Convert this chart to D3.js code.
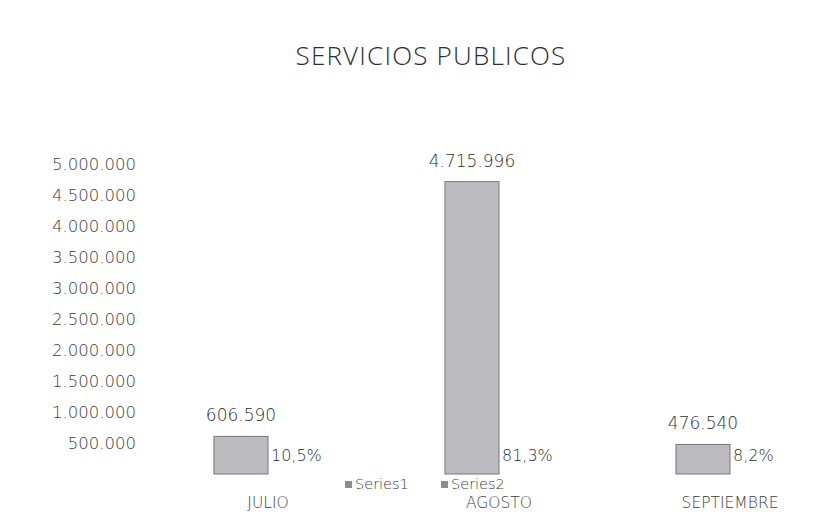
<!DOCTYPE html>
<html>
<head>
<meta charset="utf-8">
<script src="https://cdn.jsdelivr.net/npm/d3@7"></script>
<style>
  body { margin: 0; background: #fff; }
  svg { display: block; }
</style>
</head>
<body>
<svg id="chart" width="833" height="512"></svg>
<script>
// chart data
var months = ['JULIO', 'AGOSTO', 'SEPTIEMBRE'];
var amounts = [606590, 4715996, 476540];
var shares = ['10,5%', '81,3%', '8,2%'];
var yTicks = [500000, 1000000, 1500000, 2000000, 2500000, 3000000, 3500000, 4000000, 4500000, 5000000];
var legendNames = ['Series1', 'Series2'];

var svg = d3.select('#chart');
var textFont = '"DejaVu Sans", sans-serif';
var textColor = '#3c3c3c';

// layout
var plot = {l: 152.5, r: 845.5, t: 164, b: 474};

// one cluster per month, series1 left half, series2 (the %) right half
var x0 = d3.scaleBand()
    .domain(months)
    .range([plot.l, plot.r])
    .paddingInner(0.532)
    .paddingOuter(0.266);

var x1 = d3.scaleBand()
    .domain(legendNames)
    .range([0, x0.bandwidth()]);

var y = d3.scaleLinear()
    .domain([0, 5000000])
    .range([plot.b, plot.t]);

// thousands with dots, like the spanish excel chart
var fmt = function(v) { return d3.format(',')(v).replace(/,/g, '.'); };

// title
svg.append('text')
    .attr('x', 431)
    .attr('y', 65)
    .attr('text-anchor', 'middle')
    .style('font-family', '"Open Sans", sans-serif')
    .style('font-size', '26px')
    .style('font-weight', 300)
    .style('letter-spacing', '1.2px')
    .style('fill', '#2e2e2e')
    .text('SERVICIOS PUBLICOS');

// y axis, labels only
var yAxis = d3.axisLeft(y).tickValues(yTicks).tickFormat(fmt).tickSize(0).tickPadding(0);
var yG = svg.append('g')
    .attr('transform', 'translate(136,0)')
    .call(yAxis);
yG.select('.domain').remove();
yG.selectAll('text')
    .style('font-family', textFont)
    .style('font-size', '16.5px')
    .style('font-weight', 300)
    .style('fill', textColor);

// bars
var data = months.map(function(m, i) { return {month: m, amount: amounts[i], share: shares[i]}; });

var groups = svg.append('g').selectAll('.month')
    .data(data)
    .enter().append('g')
    .attr('class', 'month')
    .attr('transform', function(d) { return 'translate(' + x0(d.month) + ',0)'; });

groups.append('rect')
    .attr('x', x1('Series1'))
    .attr('y', function(d) { return y(d.amount); })
    .attr('width', x1.bandwidth())
    .attr('height', function(d) { return y(0) - y(d.amount); })
    .style('fill', '#bcbcc0')
    .style('stroke', '#76767a')
    .style('stroke-width', 1);

// amount labels above the bars
groups.append('text')
    .attr('x', x1('Series1') + x1.bandwidth() / 2)
    .attr('y', function(d) { return y(d.amount) - 15; })
    .attr('text-anchor', 'middle')
    .style('font-family', textFont)
    .style('font-size', '17px')
    .style('font-weight', 300)
    .style('fill', '#2e2e2e')
    .text(function(d) { return fmt(d.amount); });

// percent labels sit in the series2 slot
groups.append('text')
    .attr('x', x1('Series2') + 3)
    .attr('y', y(0) - 13)
    .style('font-family', textFont)
    .style('font-size', '16px')
    .style('font-weight', 300)
    .style('fill', '#2e2e2e')
    .text(function(d) { return d.share; });

// category axis
var xAxis = d3.axisBottom(x0).tickSize(0).tickPadding(0);
var xG = svg.append('g')
    .attr('transform', 'translate(0,508)')
    .call(xAxis);
xG.select('.domain').remove();
xG.selectAll('text')
    .attr('y', 0)
    .attr('dy', 0)
    .style('font-family', textFont)
    .style('font-size', '15.5px')
    .style('font-weight', 300)
    .style('fill', textColor);

// legend
var legend = svg.append('g').attr('transform', 'translate(345,489)');
var item = legend.selectAll('.item')
    .data(legendNames)
    .enter().append('g')
    .attr('class', 'item')
    .attr('transform', function(d, i) { return 'translate(' + (i * 96) + ',0)'; });
item.append('rect')
    .attr('x', 0).attr('y', -8)
    .attr('width', 7).attr('height', 7)
    .style('fill', '#8c8c90');
item.append('text')
    .attr('x', 10)
    .attr('y', 0)
    .style('font-family', textFont)
    .style('font-size', '14.5px')
    .style('font-weight', 300)
    .style('fill', textColor)
    .text(function(d) { return d; });
</script>
</body>
</html>
